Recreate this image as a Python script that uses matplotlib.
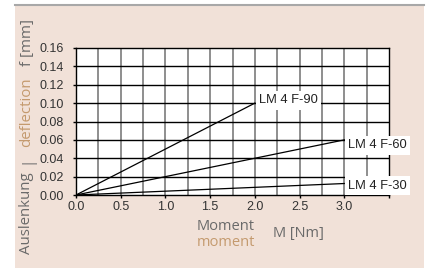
import matplotlib
matplotlib.use("Agg")
import matplotlib.pyplot as plt
from matplotlib.patches import Rectangle
from matplotlib.lines import Line2D

# Data
series_names = ["LM 4 F-90", "LM 4 F-60", "LM 4 F-30"]
moment_end = [2.0, 3.0, 3.0]          # M [Nm]
deflection_end = [0.10, 0.06, 0.0125]  # f [mm]
x_ticks = [0.0, 0.5, 1.0, 1.5, 2.0, 2.5, 3.0]
y_ticks = [0.00, 0.02, 0.04, 0.06, 0.08, 0.10, 0.12, 0.14, 0.16]

W, H = 429, 268
fig = plt.figure(figsize=(W / 100, H / 100), dpi=100)
fig.patch.set_facecolor("white")

BEIGE = "#f1e1d8"
GRAY = "#6a6a6a"
TAN = "#c49a6e"

# Background panel
fig.patches.append(Rectangle((15 / W, 0), (424 - 15) / W, (268 - 4) / H,
                             transform=fig.transFigure, facecolor=BEIGE,
                             edgecolor="none", zorder=-10))
fig.lines.append(Line2D([15 / W, 424 / W], [1 - 4.5 / H, 1 - 4.5 / H],
                        transform=fig.transFigure, color="#a8a8a8", lw=1.5))

# Axes: left 76, right 389, top 48, bottom 195 (pixels)
ax = fig.add_axes([76 / W, 1 - 195 / H, (389 - 76) / W, (195 - 48) / H])
ax.set_facecolor("white")
ax.set_xlim(0, 3.5)
ax.set_ylim(0, 0.16)

# Grid
for i in range(1, 14):
    ax.axvline(i * 0.25, color="#707070", lw=1.1, zorder=1)
for v in y_ticks[1:-1]:
    ax.axhline(v, color="black", lw=1.0, zorder=1)
for s in ax.spines.values():
    s.set_color("black")
    s.set_linewidth(1.0)

ax.set_xticks(x_ticks + [3.5])
ax.set_xticklabels([f"{v:.1f}" for v in x_ticks] + [""])
ax.set_yticks(y_ticks)
ax.set_yticklabels([f"{v:.2f}" for v in y_ticks])
ax.tick_params(axis="both", length=2.5, width=1, color="black",
               labelsize=9, labelcolor="#333333")
ax.tick_params(axis="x", pad=1.5)
ax.tick_params(axis="y", pad=6.5)
for lab in ax.get_xticklabels() + ax.get_yticklabels():
    lab.set_family("Liberation Sans")

# Lines and labels
offsets = [(3, 2), (3, -4), (3, -1.5)]
for name, mx, fy, off in zip(series_names, moment_end, deflection_end, offsets):
    ax.plot([0, mx], [0, fy], color="black", lw=0.9, zorder=3)
    ax.annotate(name, xy=(mx, fy), xytext=off, textcoords="offset points",
                ha="left", va="center", fontsize=9.3, family="Liberation Sans",
                color="#222222", zorder=5, annotation_clip=False,
                bbox=dict(boxstyle="square,pad=0.25", facecolor="white",
                          edgecolor="none"))

# Axis labels
fx = lambda px: px / W
fy_ = lambda py: 1 - py / H
fig.text(fx(226), fy_(226), "Moment", ha="center", va="center",
         fontsize=10.5, family="Open Sans", color=GRAY)
fig.text(fx(226), fy_(242), "moment", ha="center", va="center",
         fontsize=10.5, family="Open Sans", color=TAN)
fig.text(fx(298), fy_(233), "M [Nm]", ha="center", va="center",
         fontsize=10.5, family="Open Sans", color=GRAY)

ylab = [("Auslenkung", GRAY, 254), ("|", GRAY, 164), ("deflection", TAN, 147),
        ("f [mm]", GRAY, 66)]
for s, c, yb in ylab:
    fig.text(fx(27), fy_(yb), s, rotation=90, ha="center", va="bottom",
             fontsize=10.8, family="Open Sans", color=c)

fig.savefig("out.png", dpi=100, facecolor="white")
